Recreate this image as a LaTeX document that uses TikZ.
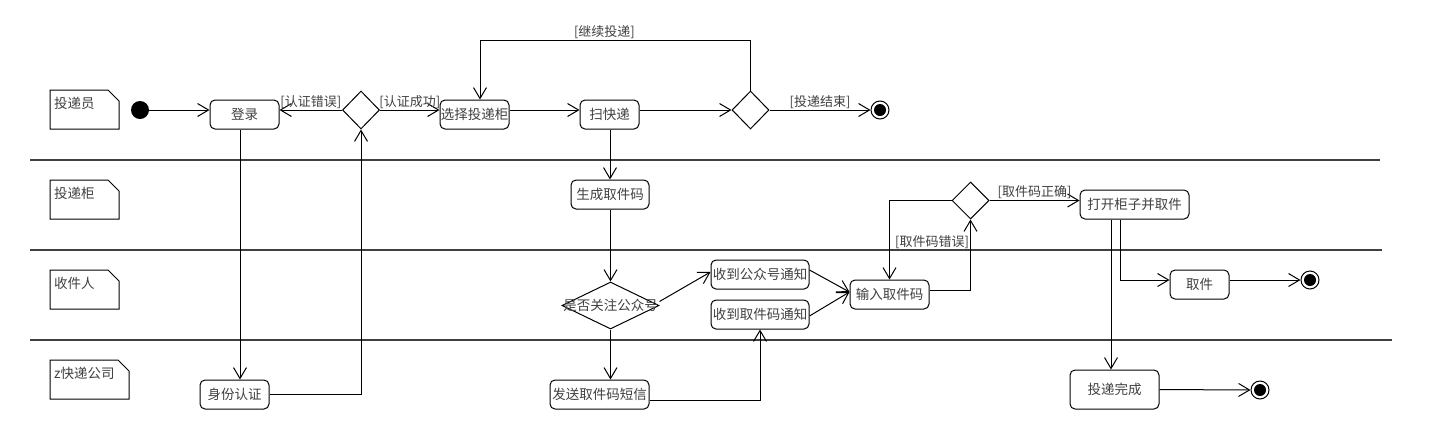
\documentclass[tikz,border=0pt]{standalone}
\usepackage{fontspec}
\setmainfont{Noto Sans CJK SC}
\usetikzlibrary{shapes.geometric,arrows.meta,calc}
\tikzset{
  act/.style={draw, line width=1pt, rounded corners=5pt, inner sep=0pt, text=black!75,
    font=\fontsize{13.5}{15}\selectfont},
  dec/.style={draw, line width=1pt, diamond, shape aspect=1, inner sep=0pt},
  lbl/.style={inner sep=0pt, text=black!75, font=\fontsize{13.5}{15}\selectfont},
  guard/.style={inner sep=1pt, text=black!75, font=\fontsize{13}{15}\selectfont},
  flow/.style={line width=1pt, -{Straight Barb[length=11pt,width=13pt,line width=1pt]}},
  lane/.style={line width=2.4pt, black!75},
  notebox/.style={draw, line width=1pt},
  initnode/.style={circle, fill=black, minimum size=18pt, inner sep=0pt},
  finalnode/.style={circle, draw, line width=1pt, minimum size=18pt, inner sep=0pt,
    path picture={\fill (path picture bounding box.center) circle (6pt);}}
}
\begin{document}
\begin{tikzpicture}[x=1pt,y=-1pt]
\useasboundingbox (0,0) rectangle (1430,440);
\fill[white] (0,0) rectangle (1430,440);

% swimlane separators
\draw[lane] (30,160) -- (1380,160);
\draw[lane] (30,250) -- (1382,250);
\draw[lane] (30,340) -- (1392,340);

% lane notes
\draw[notebox] (50,90) -- (108,90) -- (119,101) -- (119,129) -- (50,129) -- cycle;
\node[lbl, anchor=west] (n1) at (54,103) {投递员};
\draw[notebox] (50,180) -- (108,180) -- (119,191) -- (119,219) -- (50,219) -- cycle;
\node[lbl, anchor=west] (n2) at (54,193) {投递柜};
\draw[notebox] (50,270) -- (108,270) -- (119,281) -- (119,309) -- (50,309) -- cycle;
\node[lbl, anchor=west] (n3) at (54,283) {收件人};
\draw[notebox] (50,360) -- (118,360) -- (129,371) -- (129,399) -- (50,399) -- cycle;
\node[lbl, anchor=west] (n4) at (54,373) {z快递公司};

% nodes
\node[initnode] (start) at (140,110) {};
\node[act, minimum width=69pt, minimum height=29pt] (login) at (244.5,114.5) {登录};
\node[dec, minimum width=37pt, minimum height=38pt] (d1) at (361,110) {};
\node[act, minimum width=69pt, minimum height=29pt] (sel) at (474.5,114.5) {选择投递柜};
\node[act, minimum width=59pt, minimum height=29pt] (scan) at (609.5,114.5) {扫快递};
\node[dec, minimum width=37pt, minimum height=38pt] (d2) at (750.5,110) {};
\node[finalnode] (end1) at (880,110) {};

\node[act, minimum width=78pt, minimum height=29pt] (gen) at (610,194.5) {生成取件码};
\node[dec, minimum width=37pt, minimum height=37pt] (d3) at (970.5,200.5) {};
\node[act, minimum width=109pt, minimum height=29pt] (open) at (1134.5,204.5) {打开柜子并取件};

\node[dec, minimum width=97pt, minimum height=47pt] (d4) at (610.5,305.5) {};
\node[lbl] (d4t) at (610.5,305) {是否关注公众号};
\node[act, minimum width=98pt, minimum height=29pt] (recv1) at (760,274.5) {收到公众号通知};
\node[act, minimum width=98pt, minimum height=29pt] (recv2) at (760,314.5) {收到取件码通知};
\node[act, minimum width=79pt, minimum height=29pt] (input) at (889.5,294.5) {输入取件码};
\node[act, minimum width=59pt, minimum height=29pt] (take) at (1199.5,284.5) {取件};
\node[finalnode] (end2) at (1310,280) {};

\node[act, minimum width=69pt, minimum height=29pt] (auth) at (234.5,394.5) {身份认证};
\node[act, minimum width=99pt, minimum height=29pt] (send) at (599.5,394.5) {发送取件码短信};
\node[act, minimum width=89pt, minimum height=39pt] (done) at (1114.5,389.5) {投递完成};
\node[finalnode] (end3) at (1260,390) {};

\coordinate (loopc) at (480,40);

% connectors
\draw[flow] (start.east) -- (start.east -| login.west);
\draw[flow] (d1.west) -- node[guard, above, pos=0.5] {[认证错误]} (d1.west -| login.east);
\draw[flow] (d1.east) -- node[guard, above, pos=0.5] {[认证成功]} (d1.east -| sel.west);
\draw[flow] (sel.east |- d1.east) -- (d1.east -| scan.west);
\draw[flow] (scan.east |- d2.west) -- (d2.west);
\draw[flow] (d2.east) -- node[guard, above, pos=0.5] {[投递结束]} (end1.west);
\draw[flow] (d2.north) |- node[guard, above, pos=0.77] {[继续投递]} (loopc) -- (loopc |- sel.north);

\draw[flow] (login.south -| 240,0) -- (auth.north -| 240,0);
\draw[flow] (auth.east) -| (d1.south);

\draw[flow] (scan.south -| 610,0) -- (gen.north -| 610,0);
\draw[flow] (gen.south -| 610.5,0) -- (d4.north);
\draw[flow] ([yshift=4pt]d4.east) -- ([yshift=2.5pt]recv1.west);
\draw[flow] (d4.south) -- (send.north -| d4.south);
\draw[flow] ([yshift=-5.5pt]send.east) -| (recv2.south);
\draw[flow] ([yshift=4.5pt]recv1.east) -- ([yshift=2.5pt]input.west);
\draw[flow] ([yshift=-1.5pt]recv2.east) -- ([yshift=2.5pt]input.west);
\draw[flow] ([yshift=4pt]input.east) -| (d3.south);
\draw[flow] (d3.west) -| (input.north);
\node[guard] (errl) at (932,242) {[取件码错误]};
\draw[flow] (d3.east) -- node[guard, above, pos=0.5] {[取件码正确]} (d3.east -| open.west);
\draw[flow] (open.south -| 1111,0) -- (done.north -| 1111,0);
\draw[flow] (open.south -| 1120,0) |- ([yshift=4.5pt]take.west);
\draw[flow] ([yshift=4.5pt]take.east) -- (end2.west);
\draw[flow] (done.east) -- (end3.west);
\end{tikzpicture}
\end{document}
